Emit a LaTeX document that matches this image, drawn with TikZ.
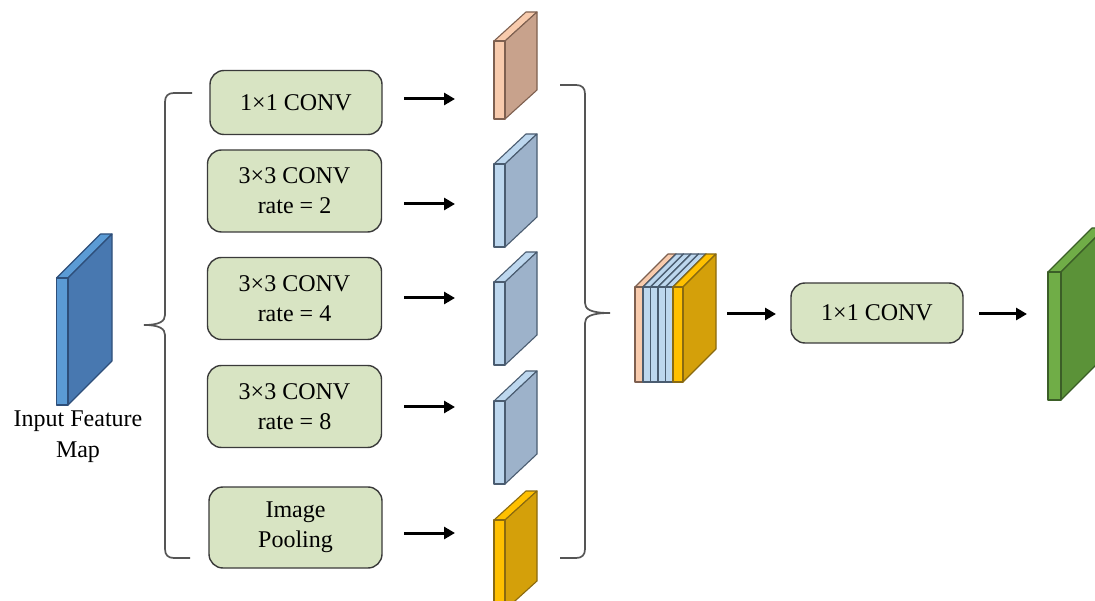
\documentclass[tikz,border=0pt]{standalone}
\usepackage{fontspec}
\setmainfont{Liberation Serif}
\usetikzlibrary{arrows.meta}

\definecolor{boxfill}{HTML}{D8E4C3}
\definecolor{boxline}{HTML}{3A3A3A}
\definecolor{bracegray}{HTML}{555555}
\definecolor{inFront}{HTML}{5B9BD5}
\definecolor{inSide}{HTML}{4878B0}
\definecolor{inEdge}{HTML}{2E4F7A}
\definecolor{orFront}{HTML}{F8CBAD}
\definecolor{orSide}{HTML}{C8A28C}
\definecolor{orEdge}{HTML}{7E6050}
\definecolor{blFront}{HTML}{BDD7EE}
\definecolor{blSide}{HTML}{9DB2CA}
\definecolor{blEdge}{HTML}{4A5C70}
\definecolor{yeFront}{HTML}{FFC000}
\definecolor{yeSide}{HTML}{D4A00A}
\definecolor{yeEdge}{HTML}{8A6A10}
\definecolor{grFront}{HTML}{70AD47}
\definecolor{grSide}{HTML}{5B9238}
\definecolor{grEdge}{HTML}{3B5E27}

\tikzset{
  convbox/.style={draw=boxline, fill=boxfill, rounded corners=14pt, line width=1.4pt,
    align=center, inner sep=0pt, font=\fontsize{24}{30}\selectfont},
  flow/.style={-{Triangle[length=11pt,width=12pt]}, line width=3pt},
  bracket/.style={draw=bracegray, line width=1.7pt},
  label/.style={align=center, inner sep=0pt, font=\fontsize{24}{31}\selectfont}
}

% slab: front-left x, top y, width, height, depth dx, depth dy, front, side, edge colour
\newcommand\slab[9]{%
  \filldraw[fill=#7, draw=#9, line width=1.1pt, line join=round]
    (#1,#2) -- ++(#5,#6) -- ++(#3,0) -- ++(-#5,-#6) -- cycle;
  \filldraw[fill=#8, draw=#9, line width=1.1pt, line join=round]
    (#1+#3,#2) -- ++(#5,#6) -- ++(0,#4) -- ++(-#5,-#6) -- cycle;
  \filldraw[fill=#7, draw=#9, line width=1.1pt, line join=round]
    (#1,#2) rectangle ++(#3,#4);
}

\begin{document}
\begin{tikzpicture}[x=1pt,y=-1pt]
\clip (0,0) rectangle (1095,601);
\fill[white] (0,0) rectangle (1095,601);

% input feature map
\slab{56.5}{278}{11.5}{127}{44}{-44}{inFront}{inSide}{inEdge}
\node[label] (inlabel) at (78,437) {Input Feature\\Map};

% left brace
\draw[bracket] (192,93) -- (174,93) .. controls (168,93) and (165,96) .. (165,102)
  -- (165,315) .. controls (165,321) and (160,325) .. (144,325)
  .. controls (160,325) and (165,329) .. (165,335)
  -- (165,549) .. controls (165,555) and (168,558) .. (174,558) -- (190,558);

% branch boxes
\node[convbox, minimum width=172pt, minimum height=64pt] (b1) at (296,102.5) {1×1 CONV};
\node[convbox, minimum width=174pt, minimum height=82pt] (b2) at (294.5,191) {3×3 CONV\\rate = 2};
\node[convbox, minimum width=174pt, minimum height=82pt] (b3) at (294.5,298.5) {3×3 CONV\\rate = 4};
\node[convbox, minimum width=174pt, minimum height=82pt] (b4) at (294.5,406.5) {3×3 CONV\\rate = 8};
\node[convbox, minimum width=173pt, minimum height=81pt] (b5) at (295.5,527.5) {Image\\Pooling};

% branch arrows
\foreach \i/\y in {1/99,2/204,3/298,4/407,5/533}{
  \coordinate (t\i) at (404,\y);
  \coordinate (h\i) at (455,\y);
  \draw[flow] (t\i) -- (h\i);
}

% branch outputs
\slab{494}{41}{11}{78}{32}{-29}{orFront}{orSide}{orEdge}
\slab{494}{164}{11}{83}{32}{-30}{blFront}{blSide}{blEdge}
\slab{494}{282}{11}{83}{32}{-30}{blFront}{blSide}{blEdge}
\slab{494}{401}{11}{83}{32}{-30}{blFront}{blSide}{blEdge}
\slab{494}{520}{11}{90}{32}{-29}{yeFront}{yeSide}{yeEdge}

% right brace
\draw[bracket] (560,85) -- (576,85) .. controls (582,85) and (585,88) .. (585,94)
  -- (585,303) .. controls (585,309) and (590,313) .. (610,313)
  .. controls (590,313) and (585,317) .. (585,323)
  -- (585,549) .. controls (585,555) and (582,558) .. (576,558) -- (560,558);

% concatenated features
\slab{635}{287}{8}{95}{33}{-33}{orFront}{orSide}{orEdge}
\slab{643}{287}{7.5}{95}{33}{-33}{blFront}{blSide}{blEdge}
\slab{650.5}{287}{7.5}{95}{33}{-33}{blFront}{blSide}{blEdge}
\slab{658}{287}{7.5}{95}{33}{-33}{blFront}{blSide}{blEdge}
\slab{665.5}{287}{7.5}{95}{33}{-33}{blFront}{blSide}{blEdge}
\slab{673}{287}{10}{95}{33}{-33}{yeFront}{yeSide}{yeEdge}

\coordinate (m1t) at (727,314);
\coordinate (m1h) at (776,314);
\draw[flow] (m1t) -- (m1h);

\node[convbox, minimum width=172pt, minimum height=60pt] (b6) at (877,313) {1×1 CONV};

\coordinate (m2t) at (979,314);
\coordinate (m2h) at (1027,314);
\draw[flow] (m2t) -- (m2h);

% output feature map
\slab{1048}{272}{13}{128}{44}{-44}{grFront}{grSide}{grEdge}
\end{tikzpicture}
\end{document}
